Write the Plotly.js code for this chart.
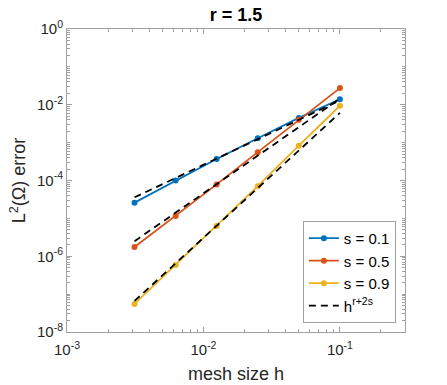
<!DOCTYPE html>
<html>
<head>
<meta charset="utf-8">
<script src="https://cdn.plot.ly/plotly-3.0.1.min.js"></script>
<style>
  html, body { margin: 0; padding: 0; background: #fff; }
  #chart { width: 447px; height: 385px; }
</style>
</head>
<body>
<div id="chart"></div>
<script>
// mesh sizes
var h = [0.003125, 0.00625, 0.0125, 0.025, 0.05, 0.1];
// L2 errors
var err01 = [2.6e-5, 1.0e-4, 3.7e-4, 1.3e-3, 4.5e-3, 1.4e-2];
var err05 = [1.76e-6, 1.15e-5, 7.9e-5, 5.6e-4, 4.0e-3, 2.75e-2];
var err09 = [5.5e-8, 5.9e-7, 6.3e-6, 7.1e-5, 8.3e-4, 9.4e-3];
// reference lines h^(r+2s), end points
var hRef = [0.003125, 0.1];
var ref01 = [3.6e-5, 1.3e-2];
var ref05 = [2.5e-6, 1.45e-2];
var ref09 = [6.6e-8, 6.1e-3];

var seriesNames = ['s = 0.1', 's = 0.5', 's = 0.9'];
var colors = ['#0072BD', '#D95319', '#EDB120'];
var errs = [err01, err05, err09];
var refs = [ref01, ref05, ref09];

// axis ticks
var xTickVals = [0.001, 0.01, 0.1];
var xTickText = ['10<sup>-3</sup>', '10<sup>-2</sup>', '10<sup>-1</sup>'];
var yTickVals = [1e-8, 1e-6, 1e-4, 1e-2, 1];
var yTickText = ['10<sup>-8</sup>', '10<sup>-6</sup>', '10<sup>-4</sup>', '10<sup>-2</sup>', '10<sup>0</sup>'];

// minor ticks at 2..9 of every decade (and odd decades on y)
var xMinor = [];
for (var d = -3; d <= -1; d++) {
    for (var k = 2; k <= 9; k++) {
        var v = k * Math.pow(10, d);
        if (v <= 0.3) xMinor.push(v);
    }
}
var yMinor = [];
for (var d = -8; d < 0; d++) {
    for (var k = 1; k <= 9; k++) {
        if (k == 1 && d % 2 == 0) continue;
        yMinor.push(k * Math.pow(10, d));
    }
}

var data = [];
for (var i = 0; i < errs.length; i++) {
    data.push({
        x: h,
        y: errs[i],
        type: 'scatter',
        mode: 'lines+markers',
        name: seriesNames[i],
        line: {color: colors[i], width: 1.8},
        marker: {color: colors[i], size: 6}
    });
}
for (var i = 0; i < refs.length; i++) {
    data.push({
        x: hRef,
        y: refs[i],
        type: 'scatter',
        mode: 'lines',
        name: 'h<sup>r+2s</sup>',
        showlegend: i == 0,
        line: {color: '#000', width: 1.8, dash: '7px,5px'}
    });
}

var axisCommon = {
    type: 'log',
    showline: true,
    linecolor: '#a0a0a0',
    linewidth: 1,
    mirror: 'allticks',
    ticks: 'inside',
    ticklen: 5,
    tickcolor: '#a0a0a0',
    showgrid: false,
    zeroline: false,
    tickfont: {family: 'Liberation Sans, Arial, sans-serif', size: 15, color: '#262626'}
};

var layout = {
    width: 447,
    height: 385,
    margin: {l: 67, r: 42, t: 29, b: 53},
    paper_bgcolor: '#fff',
    plot_bgcolor: '#fff',
    font: {family: 'Liberation Sans, Arial, sans-serif', color: '#262626'},
    title: {
        text: '<b>r = 1.5</b>',
        font: {size: 18, color: '#000'},
        x: 0.528, xanchor: 'center',
        y: 0.962, yanchor: 'middle'
    },
    xaxis: Object.assign({}, axisCommon, {
        range: [-3, Math.log10(0.3)],
        tickmode: 'array',
        tickvals: xTickVals,
        ticktext: xTickText,
        ticklabelstandoff: 4,
        minor: {tickmode: 'array', tickvals: xMinor, ticks: 'inside', ticklen: 3, tickcolor: '#a0a0a0', showgrid: false},
        title: {text: 'mesh size h', font: {size: 18, color: '#262626'}, standoff: 10}
    }),
    yaxis: Object.assign({}, axisCommon, {
        range: [-8, 0],
        tickmode: 'array',
        tickvals: yTickVals,
        ticktext: yTickText,
        minor: {tickmode: 'array', tickvals: yMinor, ticks: 'inside', ticklen: 3, tickcolor: '#a0a0a0', showgrid: false},
        title: {text: 'L<sup>2</sup>(Ω) error', font: {size: 18, color: '#262626'}, standoff: 6}
    }),
    legend: {
        x: 0.973, xanchor: 'right',
        y: 0.03, yanchor: 'bottom',
        bgcolor: '#fff',
        bordercolor: '#a0a0a0',
        borderwidth: 1,
        font: {size: 15, color: '#000'},
        tracegroupgap: 0
    },
    showlegend: true
};

Plotly.newPlot('chart', data, layout, {displayModeBar: false});
</script>
</body>
</html>
